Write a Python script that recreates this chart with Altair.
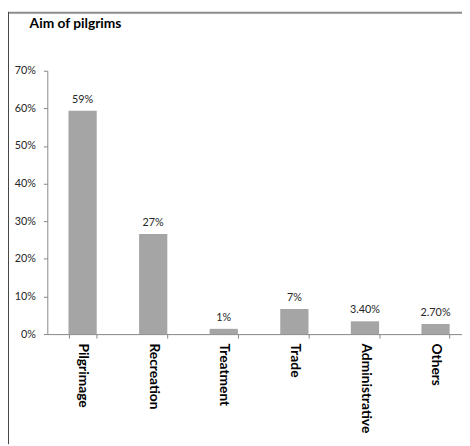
import altair as alt
import pandas as pd

categories = ["Pilgrimage", "Recreation", "Treatment", "Trade", "Administrative", "Others"]
values = [0.594, 0.266, 0.014, 0.067, 0.034, 0.027]
labels = ["59%", "27%", "1%", "7%", "3.40%", "2.70%"]
y_ticks = [0, 0.1, 0.2, 0.3, 0.4, 0.5, 0.6, 0.7]
title_text = ["Aim of pilgrims"]

df = pd.DataFrame({"cat": categories, "val": values, "lab": labels})
frame = pd.DataFrame({"k": [0]})
tdf = pd.DataFrame({"t": title_text})

FONT = "Lato"

x = alt.X("cat:N", sort=categories, title=None,
          scale=alt.Scale(paddingInner=0.6, paddingOuter=0.3),
          axis=alt.Axis(labelAngle=90, labelAlign="left", labelBaseline="middle",
                        labelFont=FONT, labelFontSize=14, labelFontWeight="bold",
                        labelColor="#000000", labelPadding=5, tickBand="extent",
                        tickSize=4, tickColor="#868686", domainColor="#868686"))
y = alt.Y("val:Q", title=None,
          scale=alt.Scale(domain=[0, 0.7], nice=False),
          axis=alt.Axis(format=".0%", values=y_ticks, labelOverlap=False,
                        grid=False, tickSize=4, tickColor="#868686", domainColor="#868686",
                        labelFont=FONT, labelFontSize=11, labelColor="#262626",
                        labelPadding=8))

bars = alt.Chart(df).mark_bar(color="#A5A5A5").encode(x=x, y=y)
text = alt.Chart(df).mark_text(font=FONT, fontSize=11, color="#262626", dy=-8,
                               baseline="alphabetic").encode(
    x=x, y=y, text="lab:N")

top_border = alt.Chart(frame).mark_rule(color="#8c8c8c", strokeWidth=2).encode(
    x=alt.value(-39), x2=alt.value(431), y=alt.value(-59))
left_border = alt.Chart(frame).mark_rule(color="#404040", strokeWidth=1).encode(
    x=alt.value(-39.5), y=alt.value(-60), y2=alt.value(380))
title = alt.Chart(tdf).mark_text(font=FONT, fontSize=14, fontWeight="bold", color="#000000",
                                 align="left", baseline="alphabetic").encode(
    x=alt.value(-18), y=alt.value(-43), text="t:N")

chart = alt.layer(top_border, left_border, bars, text, title).properties(
    width=431, height=268,
    autosize=alt.AutoSizeParams(type="none"),
    padding={"left": 40, "top": 60, "right": -9, "bottom": 110},
).configure_view(stroke=None)

chart.save("out.html", embed_options={"renderer": "svg", "actions": False})
